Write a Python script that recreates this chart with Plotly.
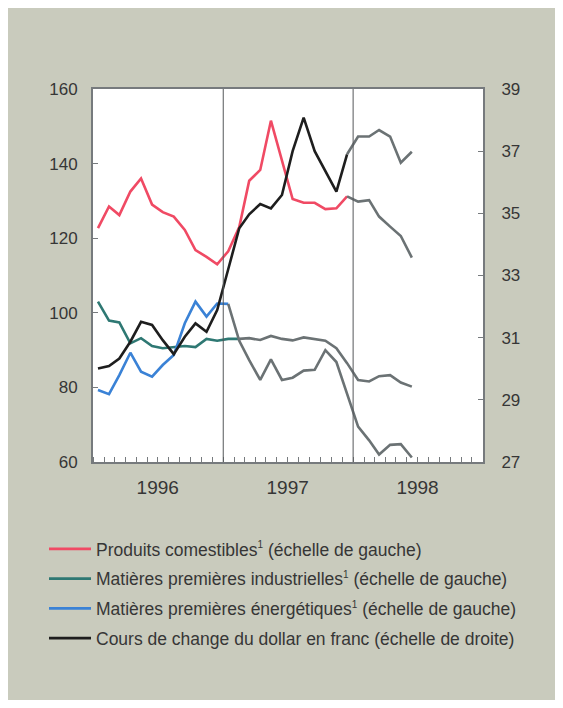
import pandas as pd
import plotly.graph_objects as go

# ---- data (monthly, Jan 1996 - Jun 1998) ----
months = [d.strftime("%Y-%m-15") for d in pd.date_range("1996-01-01", periods=30, freq="MS")]

food = [122.7, 128.5, 126.2, 132.5, 136.0, 129.0, 127.0, 125.8, 122.2, 116.8, 115.0, 113.0,
        116.5, 123.0, 135.4, 138.3, 151.5, 141.0, 130.5, 129.5, 129.5, 127.8, 128.0, 131.2,
        129.8, 130.2, 125.8, 123.1, 120.6, 114.8]
industrial = [103.0, 97.9, 97.4, 91.8, 93.2, 91.1, 90.5, 90.9, 91.1, 90.8, 93.0, 92.5,
              93.0, 93.0, 93.2, 92.7, 93.8, 93.0, 92.6, 93.4, 93.0, 92.5, 90.5, 86.5,
              82.0, 81.6, 83.0, 83.3, 81.3, 80.2]
energy = [79.3, 78.2, 83.3, 89.3, 84.2, 82.9, 86.0, 88.7, 97.2, 103.0, 99.0, 102.5,
          102.4, 92.5, 87.3, 82.0, 87.5, 82.0, 82.6, 84.5, 84.7, 90.0, 86.8, 78.5,
          69.5, 65.8, 62.0, 64.6, 64.8, 61.2]
dollar = [30.01, 30.09, 30.33, 30.87, 31.51, 31.41, 30.92, 30.47, 31.03, 31.46, 31.19, 31.89,
          33.2, 34.52, 34.97, 35.3, 35.16, 35.59, 37.0, 38.08, 37.0, 36.35, 35.7, 36.9,
          37.47, 37.47, 37.68, 37.47, 36.63, 36.98]

sup1 = "<sup><span style='font-size:10px'>1</span></sup>"
names = ["Produits comestibles" + sup1 + " (échelle de gauche)",
         "Matières premières industrielles" + sup1 + " (échelle de gauche)",
         "Matières premières énergétiques" + sup1 + " (échelle de gauche)",
         "Cours de change du dollar en franc (échelle de droite)"]

left_ticks = [60, 80, 100, 120, 140, 160]
right_ticks = [27, 29, 31, 33, 35, 37, 39]
year_ticks = ["1996-07-01", "1997-07-01", "1998-07-01"]
year_labels = ["1996", "1997", "1998"]

# ---- styling ----
colors = ["#f04a64", "#2e7873", "#3a82d6", "#1e1e1e"]
grey = "#6b7274"
axis_grey = "#767a7d"
txt = "#363636"
# index of the last month drawn in colour for each series
colour_end = [23, 13, 12, 23]
series = [food, industrial, energy, dollar]
yaxes = ["y", "y", "y", "y2"]

fig = go.Figure()
for i, (vals, ya) in enumerate(zip(series, yaxes)):
    e = colour_end[i]
    fig.add_trace(go.Scatter(x=months[:e + 1], y=vals[:e + 1], yaxis=ya, mode="lines",
                             name=names[i], legendgroup=str(i),
                             line=dict(color=colors[i], width=2.6)))
for i, (vals, ya) in enumerate(zip(series, yaxes)):
    e = colour_end[i]
    fig.add_trace(go.Scatter(x=months[e:], y=vals[e:], yaxis=ya, mode="lines",
                             showlegend=False, line=dict(color=grey, width=2.6)))

for d in ["1997-01-01", "1998-01-01"]:
    fig.add_vline(x=d, line=dict(color="#55585a", width=1))

fig.update_layout(
    width=555, height=692,
    margin=dict(l=85, r=80, t=81, b=238),
    paper_bgcolor="#c9cbbd", plot_bgcolor="white",
    font=dict(family="Liberation Sans, Arial, sans-serif", color=txt),
    showlegend=True,
    legend=dict(x=(36 - 85) / 390, y=(454 - 523) / 373, xanchor="left", yanchor="top",
                bgcolor="rgba(0,0,0,0)", font=dict(size=17.5, color=txt),
                tracegroupgap=4, itemwidth=42),
    xaxis=dict(type="date", range=["1996-01-01", "1999-01-01"],
               tickmode="array", tickvals=year_ticks, ticktext=year_labels,
               ticks="", tickfont=dict(size=19, color=txt), ticklabelstandoff=7,
               showline=True, linecolor=axis_grey, linewidth=2, mirror=True,
               showgrid=False, zeroline=False,
               minor=dict(ticks="inside", ticklen=5, tickwidth=1, tickcolor=axis_grey,
                          dtick="M1", tick0="1996-01-01", showgrid=False)),
    yaxis=dict(range=[60, 160], tickmode="array", tickvals=left_ticks,
               ticks="inside", ticklen=5, tickcolor=axis_grey, tickwidth=1,
               tickfont=dict(size=17, color=txt), ticklabelstandoff=10,
               showline=True, linecolor=axis_grey, linewidth=2,
               showgrid=False, zeroline=False),
    yaxis2=dict(range=[27, 39], tickmode="array", tickvals=right_ticks,
                overlaying="y", side="right",
                ticks="inside", ticklen=5, tickcolor=axis_grey, tickwidth=1,
                tickfont=dict(size=17, color=txt), ticklabelstandoff=13,
                showline=True, linecolor=axis_grey, linewidth=2,
                showgrid=False, zeroline=False),
)

fig.write_html("out.html")
